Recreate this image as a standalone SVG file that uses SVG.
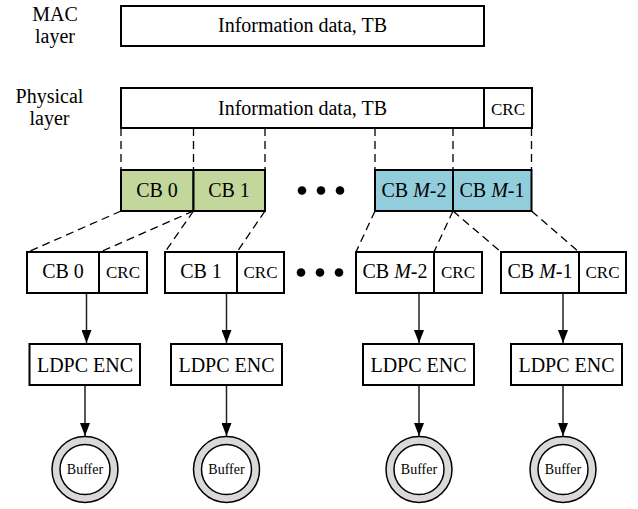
<svg xmlns="http://www.w3.org/2000/svg" width="638" height="509" viewBox="0 0 638 509">
<defs>
<style>
text{font-family:"Liberation Serif","Times New Roman",serif;font-size:20px;fill:#000;text-anchor:middle}
.s{font-size:17px}
.b{font-size:14px}
.box{fill:#fff;stroke:#000;stroke-width:2}
.g{fill:#c3d69b;stroke:#000;stroke-width:2}
.c{fill:#92cddc;stroke:#000;stroke-width:2}
.d{fill:none;stroke:#000;stroke-width:1.3;stroke-dasharray:8,5}
.a{fill:none;stroke:#222;stroke-width:1.5;marker-end:url(#ah)}
.ring{fill:#d9d9d9;stroke:#000;stroke-width:1.5}
.in{fill:#fff;stroke:#000;stroke-width:1.5}
</style>
<marker id="ah" markerUnits="userSpaceOnUse" markerWidth="14" markerHeight="10" refX="13" refY="5" orient="auto" viewBox="0 0 14 10">
<path d="M0,0 L13,5 L0,10 Z" fill="#000"/>
</marker>
</defs>
<rect width="638" height="509" fill="#fff"/>

<g id="labels" font-family="Liberation Serif, serif">
<text x="55" y="21">MAC</text>
<text x="55" y="43">layer</text>
<text x="49.5" y="103">Physical</text>
<text x="49.5" y="125">layer</text>
</g>

<g id="mac">
<rect class="box" x="121" y="6" width="363" height="40"/>
<text x="302.5" y="32">Information data, TB</text>
</g>

<g id="phy">
<rect class="box" x="121" y="88" width="363" height="40"/>
<rect class="box" x="484" y="88" width="48" height="40"/>
<text x="302.5" y="115">Information data, TB</text>
<text class="s" x="508" y="115">CRC</text>
</g>

<g id="connectors">
<line class="d" x1="121" y1="128" x2="121" y2="170"/>
<line class="d" x1="193.5" y1="128" x2="193.5" y2="170"/>
<line class="d" x1="265" y1="128" x2="265" y2="170"/>
<line class="d" x1="375" y1="128" x2="375" y2="170"/>
<line class="d" x1="453" y1="128" x2="453" y2="170"/>
<line class="d" x1="531.5" y1="128" x2="531.5" y2="170"/>

<line class="d" x1="121" y1="211" x2="28" y2="252"/>
<line class="d" x1="193.5" y1="211" x2="100" y2="252"/>
<line class="d" x1="193.5" y1="211" x2="165" y2="252"/>
<line class="d" x1="265" y1="211" x2="237" y2="252"/>
<line class="d" x1="375" y1="211" x2="356" y2="252"/>
<line class="d" x1="453" y1="211" x2="434" y2="252"/>
<line class="d" x1="453" y1="211" x2="501" y2="252"/>
<line class="d" x1="531.5" y1="211" x2="579" y2="252"/>

<line class="a" x1="86.5" y1="294" x2="86.5" y2="343"/>
<line class="a" x1="226.5" y1="294" x2="226.5" y2="343"/>
<line class="a" x1="419" y1="294" x2="419" y2="343"/>
<line class="a" x1="563" y1="294" x2="563" y2="343"/>

<line class="a" x1="85" y1="386" x2="85" y2="436"/>
<line class="a" x1="226.5" y1="386" x2="226.5" y2="436"/>
<line class="a" x1="419" y1="386" x2="419" y2="436"/>
<line class="a" x1="563" y1="386" x2="563" y2="436"/>
</g>

<g id="cbrow">
<rect class="g" x="121" y="170" width="72.5" height="41"/>
<rect class="g" x="193.5" y="170" width="71.5" height="41"/>
<text x="157" y="197">CB 0</text>
<text x="229" y="197">CB 1</text>
<rect class="c" x="375" y="170" width="78" height="41"/>
<rect class="c" x="453" y="170" width="78.5" height="41"/>
<text x="414" y="197">CB <tspan font-style="italic">M</tspan>-2</text>
<text x="492" y="197">CB <tspan font-style="italic">M</tspan>-1</text>
<circle cx="302" cy="190.5" r="4.3"/>
<circle cx="321" cy="190.5" r="4.3"/>
<circle cx="340" cy="190.5" r="4.3"/>
</g>

<g id="cb0">
<rect class="box" x="27" y="252" width="72" height="41"/>
<rect class="box" x="99" y="252" width="48" height="41"/>
<text x="63" y="278">CB 0</text>
<text class="s" x="123" y="278">CRC</text>
</g>
<g id="cb1">
<rect class="box" x="165" y="252" width="72" height="41"/>
<rect class="box" x="237" y="252" width="47" height="41"/>
<text x="201" y="278">CB 1</text>
<text class="s" x="260.5" y="278">CRC</text>
</g>
<g id="dots2">
<circle cx="301" cy="272.5" r="4.3"/>
<circle cx="320" cy="272.5" r="4.3"/>
<circle cx="339" cy="272.5" r="4.3"/>
</g>
<g id="cbm2">
<rect class="box" x="356" y="252" width="78" height="41"/>
<rect class="box" x="434" y="252" width="48" height="41"/>
<text x="395" y="278">CB <tspan font-style="italic">M</tspan>-2</text>
<text class="s" x="458" y="278">CRC</text>
</g>
<g id="cbm1">
<rect class="box" x="501" y="252" width="78" height="41"/>
<rect class="box" x="579" y="252" width="47" height="41"/>
<text x="540" y="278">CB <tspan font-style="italic">M</tspan>-1</text>
<text class="s" x="602.5" y="278">CRC</text>
</g>

<g id="enc0"><rect class="box" x="29.5" y="344" width="110.5" height="41"/><text x="85" y="372">LDPC ENC</text></g>
<g id="enc1"><rect class="box" x="171" y="344" width="111" height="41"/><text x="226.5" y="372">LDPC ENC</text></g>
<g id="enc2"><rect class="box" x="363" y="344" width="111" height="41"/><text x="418.5" y="372">LDPC ENC</text></g>
<g id="enc3"><rect class="box" x="511" y="344" width="111" height="41"/><text x="566.5" y="372">LDPC ENC</text></g>

<g id="buf0"><circle class="ring" cx="85" cy="469.5" r="33"/><circle class="in" cx="85" cy="469.5" r="25"/><text class="b" x="85" y="474">Buffer</text></g>
<g id="buf1"><circle class="ring" cx="226.5" cy="469.5" r="33"/><circle class="in" cx="226.5" cy="469.5" r="25"/><text class="b" x="226.5" y="474">Buffer</text></g>
<g id="buf2"><circle class="ring" cx="419" cy="469.5" r="33"/><circle class="in" cx="419" cy="469.5" r="25"/><text class="b" x="419" y="474">Buffer</text></g>
<g id="buf3"><circle class="ring" cx="563" cy="469.5" r="33"/><circle class="in" cx="563" cy="469.5" r="25"/><text class="b" x="563" y="474">Buffer</text></g>
</svg>
